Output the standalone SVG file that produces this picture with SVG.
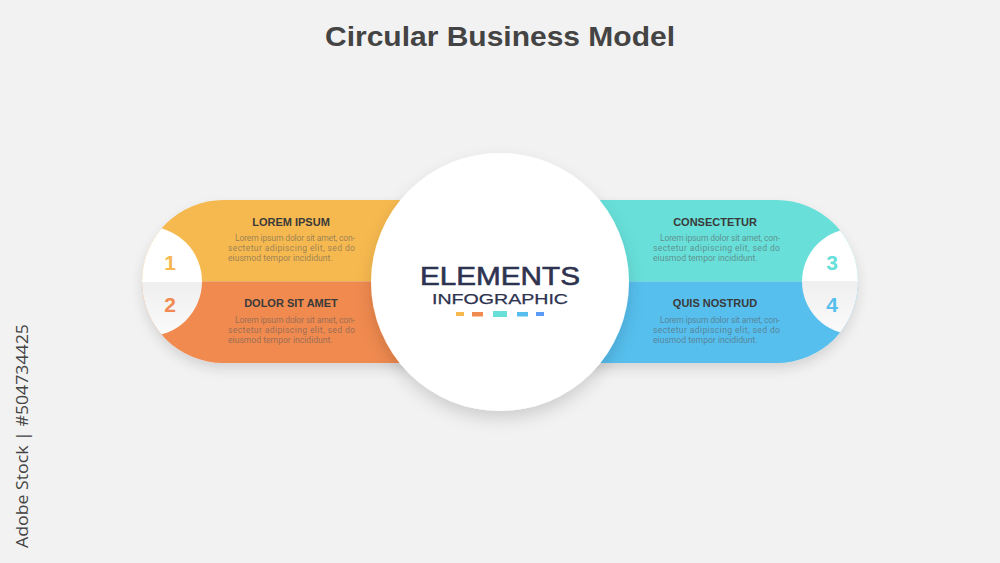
<svg xmlns="http://www.w3.org/2000/svg" width="1000" height="563" viewBox="0 0 1000 563">
<defs>
<style>
.title{font-family:"Liberation Sans",Arial,sans-serif;font-weight:bold;font-size:27px;fill:#444444}
.head{font-family:"Liberation Sans",Arial,sans-serif;font-weight:bold;font-size:11px;fill:#3a3a3a;text-anchor:middle}
.body{font-family:Roboto,"Liberation Sans",sans-serif;font-size:8.6px;fill:#5a5a5a;fill-opacity:0.6}
.num{font-family:"Liberation Sans",Arial,sans-serif;font-weight:bold;font-size:21px;text-anchor:middle}
.big{font-family:"Liberation Sans",Arial,sans-serif;fill:#2E3350;stroke:#2E3350;text-anchor:middle}
.wm{font-family:"Open Sans","Liberation Sans",sans-serif;font-size:17px;fill:#444444}
</style>
<filter id="sh" x="-20%" y="-20%" width="140%" height="150%">
<feDropShadow dx="0" dy="6" stdDeviation="6" flood-color="#000" flood-opacity="0.12"/>
</filter>
<filter id="csh" x="-20%" y="-20%" width="140%" height="150%">
<feDropShadow dx="0" dy="8" stdDeviation="8" flood-color="#000" flood-opacity="0.14"/>
</filter>
<clipPath id="pillL"><path d="M223.5,200 H420 V363 H223.5 A81.5,81.5 0 0 1 223.5,200 Z"/></clipPath>
<clipPath id="pillR"><path d="M776.5,200 H580 V363 H776.5 A81.5,81.5 0 0 0 776.5,200 Z"/></clipPath>
<linearGradient id="wg" x1="0" y1="0" x2="0" y2="1">
<stop offset="0" stop-color="#ffffff"/>
<stop offset="0.5" stop-color="#ffffff"/>
<stop offset="0.5" stop-color="#efefef"/>
<stop offset="1" stop-color="#fbfbfb"/>
</linearGradient>
</defs>
<rect width="1000" height="563" fill="#F2F2F2"/>
<text class="title" x="500" y="46" text-anchor="middle" textLength="350" lengthAdjust="spacingAndGlyphs">Circular Business Model</text>
<text class="wm" transform="translate(28,548) rotate(-90)" textLength="224" lengthAdjust="spacingAndGlyphs">Adobe Stock | #504734425</text>

<g id="pill-left" filter="url(#sh)">
<g clip-path="url(#pillL)">
<rect x="140" y="200" width="280" height="81.5" fill="#F6B94F"/>
<rect x="140" y="281.5" width="280" height="81.5" fill="#F08A50"/>
<circle cx="147" cy="281.5" r="55" fill="url(#wg)"/>
</g>
</g>
<g id="pill-right" filter="url(#sh)">
<g clip-path="url(#pillR)">
<rect x="580" y="200" width="280" height="81.5" fill="#67DFD9"/>
<rect x="580" y="281.5" width="280" height="81.5" fill="#56BFEE"/>
<circle cx="855" cy="281.5" r="53" fill="url(#wg)"/>
</g>
</g>

<g id="node-1">
<text class="num" x="170" y="270" fill="#F6B94F">1</text>
<text class="head" x="291" y="226">LOREM IPSUM</text>
<text class="body" x="235" y="241" textLength="120" lengthAdjust="spacing">Lorem ipsum dolor sit amet, con-</text>
<text class="body" x="228" y="251" textLength="127" lengthAdjust="spacing">sectetur  adipiscing  elit,  sed  do</text>
<text class="body" x="228" y="261">eiusmod tempor incididunt.</text>
</g>
<g id="node-2">
<text class="num" x="170" y="312" fill="#F08A50">2</text>
<text class="head" x="291" y="307">DOLOR SIT AMET</text>
<text class="body" x="235" y="323" textLength="120" lengthAdjust="spacing">Lorem ipsum dolor sit amet, con-</text>
<text class="body" x="228" y="333" textLength="127" lengthAdjust="spacing">sectetur  adipiscing  elit,  sed  do</text>
<text class="body" x="228" y="343">eiusmod tempor incididunt.</text>
</g>
<g id="node-3">
<text class="num" x="832" y="270" fill="#67DFD9">3</text>
<text class="head" x="715" y="226">CONSECTETUR</text>
<text class="body" x="660" y="241" textLength="120" lengthAdjust="spacing">Lorem ipsum dolor sit amet, con-</text>
<text class="body" x="653" y="251" textLength="127" lengthAdjust="spacing">sectetur  adipiscing  elit,  sed  do</text>
<text class="body" x="653" y="261">eiusmod tempor incididunt.</text>
</g>
<g id="node-4">
<text class="num" x="832" y="312" fill="#56BFEE">4</text>
<text class="head" x="715" y="307">QUIS NOSTRUD</text>
<text class="body" x="660" y="323" textLength="120" lengthAdjust="spacing">Lorem ipsum dolor sit amet, con-</text>
<text class="body" x="653" y="333" textLength="127" lengthAdjust="spacing">sectetur  adipiscing  elit,  sed  do</text>
<text class="body" x="653" y="343">eiusmod tempor incididunt.</text>
</g>

<g id="center">
<circle cx="500" cy="282" r="129" fill="#ffffff" filter="url(#csh)"/>
<text class="big" x="500" y="284.5" font-size="26" stroke-width="0.6" textLength="160" lengthAdjust="spacingAndGlyphs">ELEMENTS</text>
<text class="big" x="500" y="304" font-size="15" stroke-width="0.25" textLength="136" lengthAdjust="spacingAndGlyphs">INFOGRAPHIC</text>
<rect x="456" y="312" width="8" height="4" fill="#F6B94F"/>
<rect x="472" y="312" width="11" height="4.5" fill="#F08A50"/>
<rect x="493" y="311" width="14" height="6" fill="#67DFD9"/>
<rect x="517" y="312" width="11" height="4.5" fill="#56BFEE"/>
<rect x="536" y="312" width="8" height="4" fill="#5B9BF5"/>
</g>
<g id="connectors"/>
</svg>
